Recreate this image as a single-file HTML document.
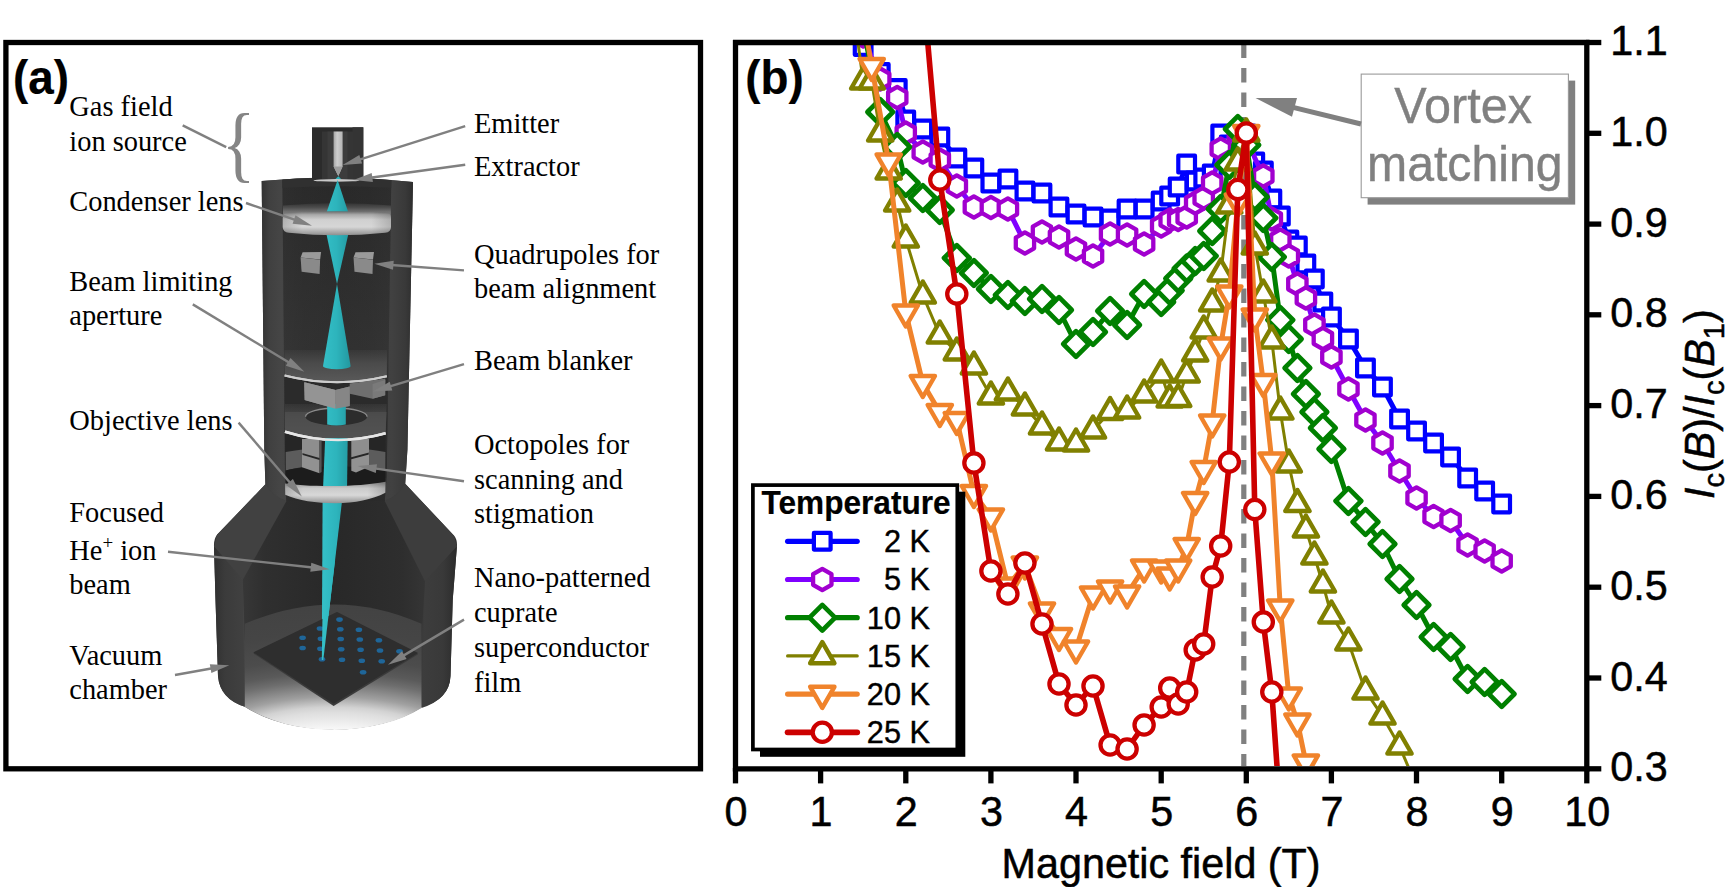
<!DOCTYPE html>
<html lang="en"><head><meta charset="utf-8"><title>Figure</title>
<style>html,body{margin:0;padding:0;background:#fff;overflow:hidden}svg{display:block}</style></head><body>
<svg width="1725" height="887" viewBox="0 0 1725 887">
<rect width="1725" height="887" fill="#fff"/>
<defs>
<linearGradient id="gShell" x1="0" x2="1" y1="0" y2="0">
 <stop offset="0" stop-color="#333333"/><stop offset="0.05" stop-color="#404040"/><stop offset="0.13" stop-color="#464646"/>
 <stop offset="0.5" stop-color="#3c3c3c"/><stop offset="0.86" stop-color="#414141"/><stop offset="0.95" stop-color="#393939"/><stop offset="1" stop-color="#2e2e2e"/>
</linearGradient>
<linearGradient id="gShellLow" x1="0" x2="1" y1="0" y2="0">
 <stop offset="0" stop-color="#303030"/><stop offset="0.06" stop-color="#3e3e3e"/><stop offset="0.12" stop-color="#454545"/>
 <stop offset="0.5" stop-color="#3c3c3c"/><stop offset="0.9" stop-color="#3b3b3b"/><stop offset="1" stop-color="#2c2c2c"/>
</linearGradient>
<linearGradient id="gInner" x1="0" x2="1" y1="0" y2="0">
 <stop offset="0" stop-color="#363636"/><stop offset="0.2" stop-color="#2d2d2d"/><stop offset="0.5" stop-color="#292929"/>
 <stop offset="0.8" stop-color="#2d2d2d"/><stop offset="1" stop-color="#353535"/>
</linearGradient>
<linearGradient id="gInnerLow" x1="0" x2="1" y1="0" y2="0">
 <stop offset="0" stop-color="#373737"/><stop offset="0.12" stop-color="#2f2f2f"/><stop offset="0.5" stop-color="#282828"/>
 <stop offset="0.88" stop-color="#2e2e2e"/><stop offset="1" stop-color="#353535"/>
</linearGradient>
<linearGradient id="gTorus" x1="0" x2="0" y1="0" y2="1">
 <stop offset="0" stop-color="#a8a8a8"/><stop offset="0.25" stop-color="#dcdcdc"/><stop offset="0.6" stop-color="#c9c9c9"/><stop offset="1" stop-color="#858585"/>
</linearGradient>
<linearGradient id="gTorusH" x1="0" x2="1" y1="0" y2="0">
 <stop offset="0" stop-color="#000" stop-opacity="0.28"/><stop offset="0.18" stop-color="#000" stop-opacity="0"/>
 <stop offset="0.82" stop-color="#000" stop-opacity="0"/><stop offset="1" stop-color="#000" stop-opacity="0.3"/>
</linearGradient>
<linearGradient id="gBeam" x1="322" x2="351" y1="0" y2="0" gradientUnits="userSpaceOnUse">
 <stop offset="0" stop-color="#35c0c8"/><stop offset="0.5" stop-color="#2db4bc"/><stop offset="1" stop-color="#23979f"/>
</linearGradient>
<linearGradient id="gNeedle" x1="0" x2="1" y1="0" y2="0">
 <stop offset="0" stop-color="#a6a6a6"/><stop offset="0.4" stop-color="#cdcdcd"/><stop offset="1" stop-color="#b4b4b4"/>
</linearGradient>
<linearGradient id="gPlate" x1="0" x2="0" y1="0" y2="1">
 <stop offset="0" stop-color="#4c4c4c"/><stop offset="1" stop-color="#6c6c6c"/>
</linearGradient>
<radialGradient id="gFloor" cx="334" cy="742" r="140" gradientUnits="userSpaceOnUse">
 <stop offset="0" stop-color="#ffffff"/><stop offset="0.14" stop-color="#f2f2f2"/><stop offset="0.3" stop-color="#c4c4c4"/>
 <stop offset="0.48" stop-color="#8c8c8c"/><stop offset="0.7" stop-color="#585858"/><stop offset="1" stop-color="#444444"/>
</radialGradient>
<clipPath id="colClip"><path d="M282.4 180 L391.3 180 L386.7 476 L385 495 L285.5 495 L285 476 Z"/></clipPath>
</defs>
<rect x="5.9" y="42.5" width="694.6" height="726.3" fill="#fff" stroke="#000" stroke-width="5.3"/>
<g>
<path d="M261.7 181 Q337 174 413 182 L407.4 450 L405.2 483.7 L454.1 535.7 Q457.4 539.5 456.9 546.5 L452.7 600 L450.5 676 Q449.5 699 423 706.5 A118 66.8 0 0 1 244.8 706.7 Q220 699 218 676 L215.5 600 L214 546.5 Q213.6 539.5 217 534.8 L265.4 484.3 L264.3 450 Z" fill="url(#gShellLow)"/>
<path d="M261.7 181 Q337 174 413 182 L407.4 450 L405.2 483.7 Q398 496 384.7 501 L286.5 501 Q272 496 265.4 484.3 L264.3 450 Z" fill="url(#gShell)"/>
<path d="M265.4 484.3 L217 534.8 L214 546.5 L242.8 579.7 L286.5 501 Q272 496 265.4 484.3 Z" fill="#414141"/>
<path d="M405.2 483.7 L454.1 535.7 L456.9 546.5 L425 581.5 L384.7 501 Q398 496 405.2 483.7 Z" fill="#3d3d3d"/>
<defs><linearGradient id="gLeftWall" x1="214" x2="245" y1="0" y2="0" gradientUnits="userSpaceOnUse">
<stop offset="0" stop-color="#303030"/><stop offset="0.35" stop-color="#3b3b3b"/><stop offset="1" stop-color="#414141"/></linearGradient>
<linearGradient id="gRightWall" x1="422" x2="457" y1="0" y2="0" gradientUnits="userSpaceOnUse">
<stop offset="0" stop-color="#3d3d3d"/><stop offset="0.6" stop-color="#393939"/><stop offset="1" stop-color="#2b2b2b"/></linearGradient>
<radialGradient id="gFloor2" cx="0" cy="0" r="170" gradientUnits="userSpaceOnUse" gradientTransform="translate(334 770) scale(2.2 1)">
 <stop offset="0" stop-color="#ffffff"/><stop offset="0.24" stop-color="#f8f8f8"/><stop offset="0.34" stop-color="#dedede"/>
 <stop offset="0.37" stop-color="#d2d2d2"/><stop offset="0.43" stop-color="#a0a0a0"/><stop offset="0.52" stop-color="#6e6e6e"/>
 <stop offset="0.57" stop-color="#5a5a5a"/><stop offset="0.65" stop-color="#4c4c4c"/><stop offset="0.8" stop-color="#454545"/><stop offset="1" stop-color="#424242"/>
</radialGradient>
<linearGradient id="gPlateS" x1="0" x2="0" y1="0" y2="1">
 <stop offset="0" stop-color="#4a4a4a" stop-opacity="0.25"/><stop offset="0.4" stop-color="#4d4d4d" stop-opacity="0.9"/><stop offset="1" stop-color="#5a5a5a"/>
</linearGradient>
<linearGradient id="gTorus2" x1="0" x2="0" y1="0" y2="1">
 <stop offset="0" stop-color="#888888"/><stop offset="0.3" stop-color="#cacaca"/><stop offset="0.62" stop-color="#d8d8d8"/><stop offset="1" stop-color="#929292"/>
</linearGradient>
<linearGradient id="gColInt" x1="0" x2="0" y1="180" y2="495" gradientUnits="userSpaceOnUse">
 <stop offset="0" stop-color="#292929"/><stop offset="0.25" stop-color="#2e2e2e"/><stop offset="0.58" stop-color="#353535"/>
 <stop offset="0.64" stop-color="#2b2b2b"/><stop offset="1" stop-color="#282828"/>
</linearGradient>
</defs>
<path d="M214 546.5 L242.8 579.7 L244.8 706.7 Q220 699 218 676 L215.5 600 Z" fill="url(#gLeftWall)"/>
<path d="M456.9 546.5 L425 581.5 L421.5 708 Q449.5 699 450.5 676 L452.7 600 Z" fill="url(#gRightWall)"/>
<path d="M286.5 494 L384.7 494 L384.7 501 L425 581.5 L421.5 640 L244.8 640 L242.8 579.7 L286.5 501 Z" fill="url(#gInnerLow)"/>
<path d="M244.8 623.8 Q335 585 421.5 623.8 L421.5 708 A118 66.8 0 0 1 244.8 706.7 Z" fill="url(#gFloor2)"/>
<path d="M282.4 180 L391.3 180 L386.7 476 L384.7 501 L286.5 501 L285 476 Z" fill="url(#gColInt)"/>
<path d="M282.4 180 L391.3 180 L386.7 476 L384.7 501 L286.5 501 L285 476 Z" fill="url(#gInner)" opacity="0.35"/>
<path d="M282.4 179.5 Q337 175.5 391.3 180 L391.2 188 Q337 184.5 282.5 188 Z" fill="#303030"/>
<rect x="312" y="127.3" width="51.3" height="52" fill="#2b2b2b"/>
<rect x="352.5" y="127.3" width="10.8" height="52" fill="#343434"/>
<rect x="322" y="131.5" width="31" height="47.5" fill="#353535"/>
<rect x="327.5" y="131.5" width="20" height="47.5" fill="#3c3c3c"/>
<path d="M333.6 131.5 H342.6 V166.5 L338.3 176 L333.6 166.5 Z" fill="url(#gNeedle)"/>
<path d="M333.6 166.5 H342.6 L338.3 176 Z" fill="#9d9d9d"/>
<path d="M335 179.6 L341.6 179.6 L338.3 176.3 Z" fill="#2db4bc"/>
<ellipse cx="336.5" cy="180.4" rx="23" ry="1.3" fill="#c9c9c9"/>
<defs><linearGradient id="gBackRing" x1="0" x2="0" y1="203" y2="214" gradientUnits="userSpaceOnUse">
<stop offset="0" stop-color="#333333"/><stop offset="0.4" stop-color="#4c4c4c"/><stop offset="0.8" stop-color="#727272"/><stop offset="1" stop-color="#7a7a7a"/></linearGradient>
<linearGradient id="gTorus3" x1="0" x2="0" y1="0" y2="1">
 <stop offset="0" stop-color="#6a6a6a"/><stop offset="0.14" stop-color="#a8a8a8"/><stop offset="0.35" stop-color="#d0d0d0"/><stop offset="0.65" stop-color="#d6d6d6"/><stop offset="1" stop-color="#8e8e8e"/>
</linearGradient></defs>
<path d="M283 205.6 Q337 200.4 390.9 205.6 L390.9 218 L283 218 Z" fill="url(#gBackRing)"/>
<path d="M337.6 180 L326 214 L326 232 L337 284 L348.8 232 L348.8 214 Z" fill="url(#gBeam)"/>
<path d="M282.7 218 Q282.7 213 289 212.6 Q337 210 385 212.6 Q391 213 391 218 L391 227 Q391 232 385 232.8 Q337 237.8 289 232.8 Q282.7 232 282.7 227 Z" fill="url(#gTorus3)"/>
<path d="M282.7 218 Q282.7 213 289 212.6 Q337 210 385 212.6 Q391 213 391 218 L391 227 Q391 232 385 232.8 Q337 237.8 289 232.8 Q282.7 232 282.7 227 Z" fill="url(#gTorusH)" opacity="0.55"/>
<path d="M300.6 257.6 L302.6 252.3 L321.1 252 L320.1 259.5 Z" fill="#9a9a9a"/>
<path d="M300.6 257.6 L320.1 259.8 L319.6 274 L301.6 271.8 Z" fill="#8a8a8a"/>
<path d="M353.5 257.6 L355.5 252.3 L374.0 252 L373.0 259.5 Z" fill="#9a9a9a"/>
<path d="M353.5 257.6 L373.0 259.8 L372.5 274 L354.5 271.8 Z" fill="#8a8a8a"/>
<path d="M284.4 350 L387 350 L386.8 376.3 Q335.5 388.6 284.6 375.5 Z" fill="url(#gPlateS)"/>
<path d="M284.6 375.5 Q335.5 388.6 386.8 376.3" fill="none" stroke="#cdcdcd" stroke-width="2"/>
<path d="M284.8 377 Q335.5 390 386.7 377.8 L386.5 404 L285 404 Z" fill="#2b2b2b"/>
<path d="M337 284 L323 366 A13.8 3.3 0 0 0 350.6 366 Z" fill="url(#gBeam)"/>
<path d="M349.7 383.5 L385.3 378.5 L385.2 395.2 L372.6 398.8 L349.7 393.7 Z" fill="#6f6f6f"/>
<path d="M372.6 384 L385.3 380 L385.2 395.2 L372.6 398.8 Z" fill="#7a7a7a"/>
<path d="M304.3 382.2 L335.5 390.1 L335.5 408.7 L304.7 400 Z" fill="#949494"/>
<path d="M335.5 390.1 L349.7 386.6 L349.7 405.9 L335.5 408.7 Z" fill="#868686"/>
<path d="M284.6 375.5 Q335.5 388.6 386.8 376.3" fill="none" stroke="#cdcdcd" stroke-width="2"/>
<path d="M284.8 404 L386.6 404 L385.6 433.3 Q335.5 447.4 285 431.7 Z" fill="url(#gPlateS)"/>
<path d="M284.8 412 L386.6 412 L385.6 433.3 Q335.5 447.4 285 431.7 Z" fill="#505050" opacity="0.7"/>
<ellipse cx="336.3" cy="416.7" rx="30.8" ry="8.7" fill="#2c2c2c"/>
<path d="M305.5 416.7 A30.8 8.7 0 0 1 367.1 416.7" fill="none" stroke="#8a8a8a" stroke-width="1.3"/>
<path d="M285 431.7 Q335.5 447.4 385.6 433.3" fill="none" stroke="#e6e6e6" stroke-width="2.6"/>
<path d="M327.2 404 L345.8 404 L345.8 424.6 Q336 426.3 327.2 424.6 Z" fill="url(#gBeam)"/>
<path d="M304.3 382.2 L335.5 390.1 L335.5 408.7 L304.7 400 Z" fill="#949494"/>
<path d="M335.5 390.1 L349.7 386.6 L349.7 405.9 L335.5 408.7 Z" fill="#868686"/>
<path d="M285.1 433.5 Q335.5 449 385.5 435 L385.6 478 L285.5 478 Z" fill="#262626"/>
<path d="M285.7 452 Q300 449.5 303 449.5 L303 467 Q294 468 285.8 470.5 Z" fill="#5c5c5c"/>
<path d="M385.4 452 Q372 449.5 368.5 449.5 L368.5 467 Q377 468 385.3 470.5 Z" fill="#5c5c5c"/>
<path d="M285.8 470.5 Q300 466.5 335.5 466.5 Q371 466.5 385.3 470.5 L385 492 L286 492 Z" fill="#1c1c1c"/>
<path d="M325.2 438 L347.7 438 L347 492 L322.9 492 Z" fill="url(#gBeam)"/>
<path d="M302 439 L319.5 439 L319.5 458 L302 453 Z" fill="#8e8e8e"/>
<path d="M302 454.8 L319.5 459.9 L319.5 473.2 L302 467.2 Z" fill="#929292"/>
<path d="M319.5 439 L321.6 439 L321.6 472 L319.5 473.2 Z" fill="#555"/>
<path d="M351.3 439 L369 439 L369 452.6 L351.3 457.2 Z" fill="#8e8e8e"/>
<path d="M351.3 459.3 L369 454.6 L369 466.8 L356 472.6 L351.3 470.8 Z" fill="#929292"/>
<path d="M285 431.7 Q335.5 447.4 385.6 433.3" fill="none" stroke="#e6e6e6" stroke-width="2.6"/>
<path d="M322.6 498 L342.4 498 L323.3 660 L321.8 660 Z" fill="url(#gBeam)"/>
<path d="M285 483.4 C300 485.6 320 486 335.5 486 C351 486 371 484.6 385.6 481.8 L385.3 492.8 C372 499.5 355 503.3 335.5 503.3 C316 503.3 298 500.6 285.3 494.8 Z" fill="url(#gTorus2)"/>
<path d="M285 483.4 C300 485.6 320 486 335.5 486 C351 486 371 484.6 385.6 481.8 L385.3 492.8 C372 499.5 355 503.3 335.5 503.3 C316 503.3 298 500.6 285.3 494.8 Z" fill="url(#gTorusH)" opacity="0.6"/>
<path d="M337 612 L418.1 654.2 L333.6 706 L253.3 653.4 Z" fill="#3b3b3b"/>
<path d="M337 612 L418.1 653 L333.6 703.8 L253.3 652.4 Z" fill="#2e2e2e"/>
<ellipse cx="339.5" cy="619.6" rx="3.3" ry="2.3" fill="#1f6699"/>
<ellipse cx="320.0" cy="628.5" rx="3.3" ry="2.3" fill="#1f6699"/>
<ellipse cx="340.3" cy="629.2" rx="3.3" ry="2.3" fill="#1f6699"/>
<ellipse cx="358.9" cy="629.7" rx="3.3" ry="2.3" fill="#1f6699"/>
<ellipse cx="302.6" cy="637.8" rx="3.3" ry="2.3" fill="#1f6699"/>
<ellipse cx="320.9" cy="638.7" rx="3.3" ry="2.3" fill="#1f6699"/>
<ellipse cx="340.7" cy="639.0" rx="3.3" ry="2.3" fill="#1f6699"/>
<ellipse cx="359.8" cy="639.5" rx="3.3" ry="2.3" fill="#1f6699"/>
<ellipse cx="378.9" cy="640.2" rx="3.3" ry="2.3" fill="#1f6699"/>
<ellipse cx="302.6" cy="648.0" rx="3.3" ry="2.3" fill="#1f6699"/>
<ellipse cx="320.4" cy="648.7" rx="3.3" ry="2.3" fill="#1f6699"/>
<ellipse cx="341.2" cy="649.2" rx="3.3" ry="2.3" fill="#1f6699"/>
<ellipse cx="360.6" cy="649.7" rx="3.3" ry="2.3" fill="#1f6699"/>
<ellipse cx="380.0" cy="650.5" rx="3.3" ry="2.3" fill="#1f6699"/>
<ellipse cx="399.5" cy="651.2" rx="3.3" ry="2.3" fill="#1f6699"/>
<ellipse cx="322.0" cy="659.3" rx="3.3" ry="2.3" fill="#1f6699"/>
<ellipse cx="342.0" cy="659.8" rx="3.3" ry="2.3" fill="#1f6699"/>
<ellipse cx="361.8" cy="660.7" rx="3.3" ry="2.3" fill="#1f6699"/>
<ellipse cx="381.7" cy="661.3" rx="3.3" ry="2.3" fill="#1f6699"/>
<ellipse cx="363.1" cy="672.3" rx="3.3" ry="2.3" fill="#1f6699"/>
<path d="M323.4 560 L335.1 560 L323.3 660 L321.8 660 Z" fill="url(#gBeam)"/>
</g>
<g font-family='"Liberation Serif", "Times New Roman", serif' font-size="28.4" fill="#000">
<text x="69.3" y="116.2">Gas field</text>
<text x="69.3" y="151.2">ion source</text>
<text x="69.3" y="210.6">Condenser lens</text>
<text x="69.3" y="290.6">Beam limiting</text>
<text x="69.3" y="325.2">aperture</text>
<text x="69.3" y="430.2">Objective lens</text>
<text x="69.3" y="521.7">Focused</text>
<text x="69.3" y="594.4">beam</text>
<text x="69.3" y="664.8">Vacuum</text>
<text x="69.3" y="699.4">chamber</text>
<text x="69.3" y="559.8">He<tspan font-size="19" dy="-11">+</tspan><tspan dy="11"> ion</tspan></text>
<text x="474.0" y="133.4">Emitter</text>
<text x="474.0" y="175.8">Extractor</text>
<text x="474.0" y="263.8">Quadrupoles for</text>
<text x="474.0" y="298.4">beam alignment</text>
<text x="474.0" y="370.4">Beam blanker</text>
<text x="474.0" y="454.3">Octopoles for</text>
<text x="474.0" y="488.8">scanning and</text>
<text x="474.0" y="523.4">stigmation</text>
<text x="474.0" y="586.8">Nano-patterned</text>
<text x="474.0" y="621.6">cuprate</text>
<text x="474.0" y="656.6">superconductor</text>
<text x="474.0" y="691.6">film</text>
</g>
<text transform="translate(13.1 93.6) scale(1 1.030)" font-family='"Liberation Sans", Arial, sans-serif' font-size="45.8" text-anchor="start" fill="#000" font-weight="bold" stroke="#000" stroke-width="0.20">(a)</text>
<line x1="182.7" y1="125.4" x2="226.2" y2="147.1" stroke="#808080" stroke-width="2.5"/>
<text transform="translate(221.7 171.6) scale(0.82 1)" font-family='"Liberation Serif", "Times New Roman", serif' font-size="85.4" fill="#858585">{</text>
<line x1="465.2" y1="126.1" x2="358.8" y2="159.9" stroke="#808080" stroke-width="2.4"/><polygon points="342.6,165.0 359.3,155.0 362.1,163.5" fill="#808080"/>
<line x1="465.2" y1="164.8" x2="370.3" y2="177.7" stroke="#808080" stroke-width="2.4"/><polygon points="353.5,180.0 371.7,173.0 372.9,181.9" fill="#808080"/>
<line x1="246.0" y1="203.0" x2="295.9" y2="220.2" stroke="#808080" stroke-width="2.4"/><polygon points="312.0,225.7 292.6,223.8 295.5,215.3" fill="#808080"/>
<line x1="464.0" y1="270.4" x2="391.4" y2="265.0" stroke="#808080" stroke-width="2.4"/><polygon points="374.4,263.8 393.7,260.7 393.0,269.7" fill="#808080"/>
<line x1="192.8" y1="304.4" x2="289.8" y2="363.0" stroke="#808080" stroke-width="2.4"/><polygon points="304.4,371.8 285.8,365.8 290.5,358.1" fill="#808080"/>
<line x1="464.0" y1="364.2" x2="389.1" y2="386.7" stroke="#808080" stroke-width="2.4"/><polygon points="372.8,391.6 389.7,381.8 392.3,390.4" fill="#808080"/>
<line x1="238.6" y1="422.6" x2="290.7" y2="483.5" stroke="#808080" stroke-width="2.4"/><polygon points="301.8,496.4 286.0,484.9 292.9,479.0" fill="#808080"/>
<line x1="464.0" y1="481.2" x2="374.4" y2="468.4" stroke="#808080" stroke-width="2.4"/><polygon points="357.6,466.0 377.0,464.2 375.8,473.1" fill="#808080"/>
<line x1="168.0" y1="551.8" x2="312.8" y2="567.5" stroke="#808080" stroke-width="2.4"/><polygon points="329.7,569.3 310.3,571.7 311.3,562.8" fill="#808080"/>
<line x1="175.0" y1="675.0" x2="212.6" y2="668.3" stroke="#808080" stroke-width="2.4"/><polygon points="229.3,665.3 211.4,673.1 209.8,664.2" fill="#808080"/>
<line x1="464.0" y1="619.6" x2="402.6" y2="656.1" stroke="#808080" stroke-width="2.4"/><polygon points="388.0,664.8 402.0,651.2 406.6,659.0" fill="#808080"/>
<defs><clipPath id="plotclip"><rect x="738" y="45" width="846" height="721"/></clipPath></defs>
<g clip-path="url(#plotclip)">
<line x1="1243.8" y1="43.5" x2="1243.8" y2="770" stroke="#808080" stroke-width="5.2" stroke-dasharray="14.4 10.1"/>
<polyline points="846.2,18.0 863.2,46.5 880.2,72.5 897.2,88.5 905.8,120.0 922.8,129.0 939.8,137.0 956.8,158.0 973.9,168.0 990.9,183.0 1007.9,179.0 1024.9,191.0 1042.0,193.0 1059.0,207.0 1076.0,214.0 1093.0,217.0 1110.1,219.0 1127.1,209.0 1144.1,209.0 1161.2,201.0 1169.7,196.0 1178.2,187.0 1186.7,164.0 1195.2,181.0 1203.7,178.0 1212.2,174.0 1220.7,134.0 1229.3,145.0 1237.8,138.0 1246.3,134.0 1254.8,162.0 1263.3,171.0 1271.8,199.0 1280.3,216.0 1288.8,240.0 1297.4,246.0 1305.9,264.0 1314.4,279.0 1322.9,302.0 1331.4,317.0 1348.4,339.0 1365.5,368.0 1382.5,387.0 1399.5,419.0 1416.5,431.0 1433.6,443.0 1450.6,457.0 1467.6,478.0 1484.6,491.0 1501.7,504.0" fill="none" stroke="#0000ff" stroke-width="5.00" stroke-linejoin="round"/>
<rect x="854.8" y="38.1" width="16.7" height="16.7" fill="#fff" stroke="#0000ff" stroke-width="4.2" stroke-linejoin="round"/>
<rect x="871.9" y="64.2" width="16.7" height="16.7" fill="#fff" stroke="#0000ff" stroke-width="4.2" stroke-linejoin="round"/>
<rect x="888.9" y="80.2" width="16.7" height="16.7" fill="#fff" stroke="#0000ff" stroke-width="4.2" stroke-linejoin="round"/>
<rect x="897.4" y="111.7" width="16.7" height="16.7" fill="#fff" stroke="#0000ff" stroke-width="4.2" stroke-linejoin="round"/>
<rect x="914.4" y="120.7" width="16.7" height="16.7" fill="#fff" stroke="#0000ff" stroke-width="4.2" stroke-linejoin="round"/>
<rect x="931.5" y="128.7" width="16.7" height="16.7" fill="#fff" stroke="#0000ff" stroke-width="4.2" stroke-linejoin="round"/>
<rect x="948.5" y="149.7" width="16.7" height="16.7" fill="#fff" stroke="#0000ff" stroke-width="4.2" stroke-linejoin="round"/>
<rect x="965.5" y="159.7" width="16.7" height="16.7" fill="#fff" stroke="#0000ff" stroke-width="4.2" stroke-linejoin="round"/>
<rect x="982.5" y="174.7" width="16.7" height="16.7" fill="#fff" stroke="#0000ff" stroke-width="4.2" stroke-linejoin="round"/>
<rect x="999.6" y="170.7" width="16.7" height="16.7" fill="#fff" stroke="#0000ff" stroke-width="4.2" stroke-linejoin="round"/>
<rect x="1016.6" y="182.7" width="16.7" height="16.7" fill="#fff" stroke="#0000ff" stroke-width="4.2" stroke-linejoin="round"/>
<rect x="1033.6" y="184.7" width="16.7" height="16.7" fill="#fff" stroke="#0000ff" stroke-width="4.2" stroke-linejoin="round"/>
<rect x="1050.6" y="198.7" width="16.7" height="16.7" fill="#fff" stroke="#0000ff" stroke-width="4.2" stroke-linejoin="round"/>
<rect x="1067.7" y="205.7" width="16.7" height="16.7" fill="#fff" stroke="#0000ff" stroke-width="4.2" stroke-linejoin="round"/>
<rect x="1084.7" y="208.7" width="16.7" height="16.7" fill="#fff" stroke="#0000ff" stroke-width="4.2" stroke-linejoin="round"/>
<rect x="1101.7" y="210.7" width="16.7" height="16.7" fill="#fff" stroke="#0000ff" stroke-width="4.2" stroke-linejoin="round"/>
<rect x="1118.7" y="200.7" width="16.7" height="16.7" fill="#fff" stroke="#0000ff" stroke-width="4.2" stroke-linejoin="round"/>
<rect x="1135.8" y="200.7" width="16.7" height="16.7" fill="#fff" stroke="#0000ff" stroke-width="4.2" stroke-linejoin="round"/>
<rect x="1152.8" y="192.7" width="16.7" height="16.7" fill="#fff" stroke="#0000ff" stroke-width="4.2" stroke-linejoin="round"/>
<rect x="1161.3" y="187.7" width="16.7" height="16.7" fill="#fff" stroke="#0000ff" stroke-width="4.2" stroke-linejoin="round"/>
<rect x="1169.8" y="178.7" width="16.7" height="16.7" fill="#fff" stroke="#0000ff" stroke-width="4.2" stroke-linejoin="round"/>
<rect x="1178.3" y="155.7" width="16.7" height="16.7" fill="#fff" stroke="#0000ff" stroke-width="4.2" stroke-linejoin="round"/>
<rect x="1186.9" y="172.7" width="16.7" height="16.7" fill="#fff" stroke="#0000ff" stroke-width="4.2" stroke-linejoin="round"/>
<rect x="1195.4" y="169.7" width="16.7" height="16.7" fill="#fff" stroke="#0000ff" stroke-width="4.2" stroke-linejoin="round"/>
<rect x="1203.9" y="165.7" width="16.7" height="16.7" fill="#fff" stroke="#0000ff" stroke-width="4.2" stroke-linejoin="round"/>
<rect x="1212.4" y="125.7" width="16.7" height="16.7" fill="#fff" stroke="#0000ff" stroke-width="4.2" stroke-linejoin="round"/>
<rect x="1220.9" y="136.7" width="16.7" height="16.7" fill="#fff" stroke="#0000ff" stroke-width="4.2" stroke-linejoin="round"/>
<rect x="1229.4" y="129.7" width="16.7" height="16.7" fill="#fff" stroke="#0000ff" stroke-width="4.2" stroke-linejoin="round"/>
<rect x="1237.9" y="125.7" width="16.7" height="16.7" fill="#fff" stroke="#0000ff" stroke-width="4.2" stroke-linejoin="round"/>
<rect x="1246.4" y="153.7" width="16.7" height="16.7" fill="#fff" stroke="#0000ff" stroke-width="4.2" stroke-linejoin="round"/>
<rect x="1255.0" y="162.7" width="16.7" height="16.7" fill="#fff" stroke="#0000ff" stroke-width="4.2" stroke-linejoin="round"/>
<rect x="1263.5" y="190.7" width="16.7" height="16.7" fill="#fff" stroke="#0000ff" stroke-width="4.2" stroke-linejoin="round"/>
<rect x="1272.0" y="207.7" width="16.7" height="16.7" fill="#fff" stroke="#0000ff" stroke-width="4.2" stroke-linejoin="round"/>
<rect x="1280.5" y="231.7" width="16.7" height="16.7" fill="#fff" stroke="#0000ff" stroke-width="4.2" stroke-linejoin="round"/>
<rect x="1289.0" y="237.7" width="16.7" height="16.7" fill="#fff" stroke="#0000ff" stroke-width="4.2" stroke-linejoin="round"/>
<rect x="1297.5" y="255.7" width="16.7" height="16.7" fill="#fff" stroke="#0000ff" stroke-width="4.2" stroke-linejoin="round"/>
<rect x="1306.0" y="270.6" width="16.7" height="16.7" fill="#fff" stroke="#0000ff" stroke-width="4.2" stroke-linejoin="round"/>
<rect x="1314.5" y="293.6" width="16.7" height="16.7" fill="#fff" stroke="#0000ff" stroke-width="4.2" stroke-linejoin="round"/>
<rect x="1323.1" y="308.6" width="16.7" height="16.7" fill="#fff" stroke="#0000ff" stroke-width="4.2" stroke-linejoin="round"/>
<rect x="1340.1" y="330.6" width="16.7" height="16.7" fill="#fff" stroke="#0000ff" stroke-width="4.2" stroke-linejoin="round"/>
<rect x="1357.1" y="359.6" width="16.7" height="16.7" fill="#fff" stroke="#0000ff" stroke-width="4.2" stroke-linejoin="round"/>
<rect x="1374.1" y="378.6" width="16.7" height="16.7" fill="#fff" stroke="#0000ff" stroke-width="4.2" stroke-linejoin="round"/>
<rect x="1391.2" y="410.6" width="16.7" height="16.7" fill="#fff" stroke="#0000ff" stroke-width="4.2" stroke-linejoin="round"/>
<rect x="1408.2" y="422.6" width="16.7" height="16.7" fill="#fff" stroke="#0000ff" stroke-width="4.2" stroke-linejoin="round"/>
<rect x="1425.2" y="434.6" width="16.7" height="16.7" fill="#fff" stroke="#0000ff" stroke-width="4.2" stroke-linejoin="round"/>
<rect x="1442.2" y="448.6" width="16.7" height="16.7" fill="#fff" stroke="#0000ff" stroke-width="4.2" stroke-linejoin="round"/>
<rect x="1459.3" y="469.6" width="16.7" height="16.7" fill="#fff" stroke="#0000ff" stroke-width="4.2" stroke-linejoin="round"/>
<rect x="1476.3" y="482.6" width="16.7" height="16.7" fill="#fff" stroke="#0000ff" stroke-width="4.2" stroke-linejoin="round"/>
<rect x="1493.3" y="495.6" width="16.7" height="16.7" fill="#fff" stroke="#0000ff" stroke-width="4.2" stroke-linejoin="round"/>
<polyline points="846.2,10.0 863.2,36.0 880.2,79.0 897.2,97.5 905.8,133.0 922.8,152.0 939.8,160.0 956.8,186.0 973.9,207.0 990.9,207.5 1007.9,209.0 1024.9,243.0 1042.0,232.0 1059.0,237.0 1076.0,249.0 1093.0,256.0 1110.1,234.0 1127.1,235.0 1144.1,244.0 1161.2,226.0 1169.7,220.0 1178.2,219.5 1186.7,217.0 1195.2,203.0 1203.7,198.0 1212.2,183.0 1220.7,149.0 1229.3,162.0 1237.8,133.0 1246.3,135.0 1254.8,158.0 1263.3,176.0 1271.8,219.0 1280.3,240.0 1288.8,256.0 1297.4,284.0 1305.9,298.0 1314.4,325.0 1322.9,338.5 1331.4,357.0 1348.4,389.0 1365.5,420.0 1382.5,443.0 1399.5,471.0 1416.5,498.0 1433.6,516.5 1450.6,520.5 1467.6,545.0 1484.6,551.0 1501.7,561.0" fill="none" stroke="#7f00ff" stroke-width="5.00" stroke-linejoin="round"/>
<polygon points="863.2,25.4 872.4,30.7 872.4,41.3 863.2,46.6 854.0,41.3 854.0,30.7" fill="#fff" stroke="#a100cf" stroke-width="4.3" stroke-linejoin="round"/>
<polygon points="880.2,68.4 889.4,73.7 889.4,84.3 880.2,89.6 871.0,84.3 871.0,73.7" fill="#fff" stroke="#a100cf" stroke-width="4.3" stroke-linejoin="round"/>
<polygon points="897.2,86.9 906.4,92.2 906.4,102.8 897.2,108.1 888.1,102.8 888.1,92.2" fill="#fff" stroke="#a100cf" stroke-width="4.3" stroke-linejoin="round"/>
<polygon points="905.8,122.4 914.9,127.7 914.9,138.3 905.8,143.6 896.6,138.3 896.6,127.7" fill="#fff" stroke="#a100cf" stroke-width="4.3" stroke-linejoin="round"/>
<polygon points="922.8,141.4 932.0,146.7 932.0,157.3 922.8,162.6 913.6,157.3 913.6,146.7" fill="#fff" stroke="#a100cf" stroke-width="4.3" stroke-linejoin="round"/>
<polygon points="939.8,149.4 949.0,154.7 949.0,165.3 939.8,170.6 930.6,165.3 930.6,154.7" fill="#fff" stroke="#a100cf" stroke-width="4.3" stroke-linejoin="round"/>
<polygon points="956.8,175.4 966.0,180.7 966.0,191.3 956.8,196.6 947.7,191.3 947.7,180.7" fill="#fff" stroke="#a100cf" stroke-width="4.3" stroke-linejoin="round"/>
<polygon points="973.9,196.4 983.0,201.7 983.0,212.3 973.9,217.6 964.7,212.3 964.7,201.7" fill="#fff" stroke="#a100cf" stroke-width="4.3" stroke-linejoin="round"/>
<polygon points="990.9,196.9 1000.1,202.2 1000.1,212.8 990.9,218.1 981.7,212.8 981.7,202.2" fill="#fff" stroke="#a100cf" stroke-width="4.3" stroke-linejoin="round"/>
<polygon points="1007.9,198.4 1017.1,203.7 1017.1,214.3 1007.9,219.6 998.7,214.3 998.7,203.7" fill="#fff" stroke="#a100cf" stroke-width="4.3" stroke-linejoin="round"/>
<polygon points="1024.9,232.4 1034.1,237.7 1034.1,248.3 1024.9,253.6 1015.8,248.3 1015.8,237.7" fill="#fff" stroke="#a100cf" stroke-width="4.3" stroke-linejoin="round"/>
<polygon points="1042.0,221.4 1051.1,226.7 1051.1,237.3 1042.0,242.6 1032.8,237.3 1032.8,226.7" fill="#fff" stroke="#a100cf" stroke-width="4.3" stroke-linejoin="round"/>
<polygon points="1059.0,226.4 1068.2,231.7 1068.2,242.3 1059.0,247.6 1049.8,242.3 1049.8,231.7" fill="#fff" stroke="#a100cf" stroke-width="4.3" stroke-linejoin="round"/>
<polygon points="1076.0,238.4 1085.2,243.7 1085.2,254.3 1076.0,259.6 1066.8,254.3 1066.8,243.7" fill="#fff" stroke="#a100cf" stroke-width="4.3" stroke-linejoin="round"/>
<polygon points="1093.0,245.4 1102.2,250.7 1102.2,261.3 1093.0,266.6 1083.9,261.3 1083.9,250.7" fill="#fff" stroke="#a100cf" stroke-width="4.3" stroke-linejoin="round"/>
<polygon points="1110.1,223.4 1119.3,228.7 1119.3,239.3 1110.1,244.6 1100.9,239.3 1100.9,228.7" fill="#fff" stroke="#a100cf" stroke-width="4.3" stroke-linejoin="round"/>
<polygon points="1127.1,224.4 1136.3,229.7 1136.3,240.3 1127.1,245.6 1117.9,240.3 1117.9,229.7" fill="#fff" stroke="#a100cf" stroke-width="4.3" stroke-linejoin="round"/>
<polygon points="1144.1,233.4 1153.3,238.7 1153.3,249.3 1144.1,254.6 1134.9,249.3 1134.9,238.7" fill="#fff" stroke="#a100cf" stroke-width="4.3" stroke-linejoin="round"/>
<polygon points="1161.2,215.4 1170.3,220.7 1170.3,231.3 1161.2,236.6 1152.0,231.3 1152.0,220.7" fill="#fff" stroke="#a100cf" stroke-width="4.3" stroke-linejoin="round"/>
<polygon points="1169.7,209.4 1178.8,214.7 1178.8,225.3 1169.7,230.6 1160.5,225.3 1160.5,214.7" fill="#fff" stroke="#a100cf" stroke-width="4.3" stroke-linejoin="round"/>
<polygon points="1178.2,208.9 1187.4,214.2 1187.4,224.8 1178.2,230.1 1169.0,224.8 1169.0,214.2" fill="#fff" stroke="#a100cf" stroke-width="4.3" stroke-linejoin="round"/>
<polygon points="1186.7,206.4 1195.9,211.7 1195.9,222.3 1186.7,227.6 1177.5,222.3 1177.5,211.7" fill="#fff" stroke="#a100cf" stroke-width="4.3" stroke-linejoin="round"/>
<polygon points="1195.2,192.4 1204.4,197.7 1204.4,208.3 1195.2,213.6 1186.0,208.3 1186.0,197.7" fill="#fff" stroke="#a100cf" stroke-width="4.3" stroke-linejoin="round"/>
<polygon points="1203.7,187.4 1212.9,192.7 1212.9,203.3 1203.7,208.6 1194.5,203.3 1194.5,192.7" fill="#fff" stroke="#a100cf" stroke-width="4.3" stroke-linejoin="round"/>
<polygon points="1212.2,172.4 1221.4,177.7 1221.4,188.3 1212.2,193.6 1203.0,188.3 1203.0,177.7" fill="#fff" stroke="#a100cf" stroke-width="4.3" stroke-linejoin="round"/>
<polygon points="1220.7,138.4 1229.9,143.7 1229.9,154.3 1220.7,159.6 1211.6,154.3 1211.6,143.7" fill="#fff" stroke="#a100cf" stroke-width="4.3" stroke-linejoin="round"/>
<polygon points="1229.3,151.4 1238.4,156.7 1238.4,167.3 1229.3,172.6 1220.1,167.3 1220.1,156.7" fill="#fff" stroke="#a100cf" stroke-width="4.3" stroke-linejoin="round"/>
<polygon points="1237.8,122.4 1246.9,127.7 1246.9,138.3 1237.8,143.6 1228.6,138.3 1228.6,127.7" fill="#fff" stroke="#a100cf" stroke-width="4.3" stroke-linejoin="round"/>
<polygon points="1246.3,124.4 1255.5,129.7 1255.5,140.3 1246.3,145.6 1237.1,140.3 1237.1,129.7" fill="#fff" stroke="#a100cf" stroke-width="4.3" stroke-linejoin="round"/>
<polygon points="1263.3,165.4 1272.5,170.7 1272.5,181.3 1263.3,186.6 1254.1,181.3 1254.1,170.7" fill="#fff" stroke="#a100cf" stroke-width="4.3" stroke-linejoin="round"/>
<polygon points="1271.8,208.4 1281.0,213.7 1281.0,224.3 1271.8,229.6 1262.6,224.3 1262.6,213.7" fill="#fff" stroke="#a100cf" stroke-width="4.3" stroke-linejoin="round"/>
<polygon points="1280.3,229.4 1289.5,234.7 1289.5,245.3 1280.3,250.6 1271.2,245.3 1271.2,234.7" fill="#fff" stroke="#a100cf" stroke-width="4.3" stroke-linejoin="round"/>
<polygon points="1288.8,245.4 1298.0,250.7 1298.0,261.3 1288.8,266.6 1279.7,261.3 1279.7,250.7" fill="#fff" stroke="#a100cf" stroke-width="4.3" stroke-linejoin="round"/>
<polygon points="1297.4,273.4 1306.5,278.7 1306.5,289.3 1297.4,294.6 1288.2,289.3 1288.2,278.7" fill="#fff" stroke="#a100cf" stroke-width="4.3" stroke-linejoin="round"/>
<polygon points="1305.9,287.4 1315.1,292.7 1315.1,303.3 1305.9,308.6 1296.7,303.3 1296.7,292.7" fill="#fff" stroke="#a100cf" stroke-width="4.3" stroke-linejoin="round"/>
<polygon points="1314.4,314.4 1323.6,319.7 1323.6,330.3 1314.4,335.6 1305.2,330.3 1305.2,319.7" fill="#fff" stroke="#a100cf" stroke-width="4.3" stroke-linejoin="round"/>
<polygon points="1322.9,327.9 1332.1,333.2 1332.1,343.8 1322.9,349.1 1313.7,343.8 1313.7,333.2" fill="#fff" stroke="#a100cf" stroke-width="4.3" stroke-linejoin="round"/>
<polygon points="1331.4,346.4 1340.6,351.7 1340.6,362.3 1331.4,367.6 1322.2,362.3 1322.2,351.7" fill="#fff" stroke="#a100cf" stroke-width="4.3" stroke-linejoin="round"/>
<polygon points="1348.4,378.4 1357.6,383.7 1357.6,394.3 1348.4,399.6 1339.3,394.3 1339.3,383.7" fill="#fff" stroke="#a100cf" stroke-width="4.3" stroke-linejoin="round"/>
<polygon points="1365.5,409.4 1374.6,414.7 1374.6,425.3 1365.5,430.6 1356.3,425.3 1356.3,414.7" fill="#fff" stroke="#a100cf" stroke-width="4.3" stroke-linejoin="round"/>
<polygon points="1382.5,432.4 1391.7,437.7 1391.7,448.3 1382.5,453.6 1373.3,448.3 1373.3,437.7" fill="#fff" stroke="#a100cf" stroke-width="4.3" stroke-linejoin="round"/>
<polygon points="1399.5,460.4 1408.7,465.7 1408.7,476.3 1399.5,481.6 1390.3,476.3 1390.3,465.7" fill="#fff" stroke="#a100cf" stroke-width="4.3" stroke-linejoin="round"/>
<polygon points="1416.5,487.4 1425.7,492.7 1425.7,503.3 1416.5,508.6 1407.4,503.3 1407.4,492.7" fill="#fff" stroke="#a100cf" stroke-width="4.3" stroke-linejoin="round"/>
<polygon points="1433.6,505.9 1442.7,511.2 1442.7,521.8 1433.6,527.1 1424.4,521.8 1424.4,511.2" fill="#fff" stroke="#a100cf" stroke-width="4.3" stroke-linejoin="round"/>
<polygon points="1450.6,509.9 1459.8,515.2 1459.8,525.8 1450.6,531.1 1441.4,525.8 1441.4,515.2" fill="#fff" stroke="#a100cf" stroke-width="4.3" stroke-linejoin="round"/>
<polygon points="1467.6,534.4 1476.8,539.7 1476.8,550.3 1467.6,555.6 1458.4,550.3 1458.4,539.7" fill="#fff" stroke="#a100cf" stroke-width="4.3" stroke-linejoin="round"/>
<polygon points="1484.6,540.4 1493.8,545.7 1493.8,556.3 1484.6,561.6 1475.5,556.3 1475.5,545.7" fill="#fff" stroke="#a100cf" stroke-width="4.3" stroke-linejoin="round"/>
<polygon points="1501.7,550.4 1510.8,555.7 1510.8,566.3 1501.7,571.6 1492.5,566.3 1492.5,555.7" fill="#fff" stroke="#a100cf" stroke-width="4.3" stroke-linejoin="round"/>
<polyline points="846.2,-60.0 863.2,28.0 880.2,112.0 897.2,147.0 905.8,183.0 922.8,198.0 939.8,210.0 956.8,258.0 973.9,273.0 990.9,289.0 1007.9,295.0 1024.9,301.0 1042.0,299.0 1059.0,310.0 1076.0,344.0 1093.0,332.0 1110.1,311.0 1127.1,325.0 1144.1,294.0 1161.2,302.0 1169.7,290.5 1178.2,278.5 1186.7,268.5 1195.2,261.0 1203.7,256.0 1212.2,231.0 1220.7,209.0 1229.3,165.0 1237.8,129.0 1246.3,145.0 1254.8,197.0 1263.3,218.0 1271.8,257.0 1280.3,320.0 1288.8,339.0 1297.4,368.0 1305.9,394.0 1314.4,412.0 1322.9,428.0 1331.4,449.0 1348.4,501.0 1365.5,522.0 1382.5,544.0 1399.5,579.0 1416.5,605.0 1433.6,637.0 1450.6,647.0 1467.6,679.0 1484.6,682.0 1501.7,694.0" fill="none" stroke="#008000" stroke-width="5.00" stroke-linejoin="round"/>
<polygon points="863.2,15.2 876.0,28.0 863.2,40.8 850.4,28.0" fill="#fff" stroke="#008000" stroke-width="4.7" stroke-linejoin="round"/>
<polygon points="880.2,99.2 893.0,112.0 880.2,124.8 867.4,112.0" fill="#fff" stroke="#008000" stroke-width="4.7" stroke-linejoin="round"/>
<polygon points="897.2,134.2 910.0,147.0 897.2,159.8 884.4,147.0" fill="#fff" stroke="#008000" stroke-width="4.7" stroke-linejoin="round"/>
<polygon points="905.8,170.2 918.6,183.0 905.8,195.8 893.0,183.0" fill="#fff" stroke="#008000" stroke-width="4.7" stroke-linejoin="round"/>
<polygon points="922.8,185.2 935.6,198.0 922.8,210.8 910.0,198.0" fill="#fff" stroke="#008000" stroke-width="4.7" stroke-linejoin="round"/>
<polygon points="939.8,197.2 952.6,210.0 939.8,222.8 927.0,210.0" fill="#fff" stroke="#008000" stroke-width="4.7" stroke-linejoin="round"/>
<polygon points="956.8,245.2 969.6,258.0 956.8,270.8 944.0,258.0" fill="#fff" stroke="#008000" stroke-width="4.7" stroke-linejoin="round"/>
<polygon points="973.9,260.2 986.7,273.0 973.9,285.8 961.1,273.0" fill="#fff" stroke="#008000" stroke-width="4.7" stroke-linejoin="round"/>
<polygon points="990.9,276.2 1003.7,289.0 990.9,301.8 978.1,289.0" fill="#fff" stroke="#008000" stroke-width="4.7" stroke-linejoin="round"/>
<polygon points="1007.9,282.2 1020.7,295.0 1007.9,307.8 995.1,295.0" fill="#fff" stroke="#008000" stroke-width="4.7" stroke-linejoin="round"/>
<polygon points="1024.9,288.2 1037.7,301.0 1024.9,313.8 1012.1,301.0" fill="#fff" stroke="#008000" stroke-width="4.7" stroke-linejoin="round"/>
<polygon points="1042.0,286.2 1054.8,299.0 1042.0,311.8 1029.2,299.0" fill="#fff" stroke="#008000" stroke-width="4.7" stroke-linejoin="round"/>
<polygon points="1059.0,297.2 1071.8,310.0 1059.0,322.8 1046.2,310.0" fill="#fff" stroke="#008000" stroke-width="4.7" stroke-linejoin="round"/>
<polygon points="1076.0,331.2 1088.8,344.0 1076.0,356.8 1063.2,344.0" fill="#fff" stroke="#008000" stroke-width="4.7" stroke-linejoin="round"/>
<polygon points="1093.0,319.2 1105.8,332.0 1093.0,344.8 1080.2,332.0" fill="#fff" stroke="#008000" stroke-width="4.7" stroke-linejoin="round"/>
<polygon points="1110.1,298.2 1122.9,311.0 1110.1,323.8 1097.3,311.0" fill="#fff" stroke="#008000" stroke-width="4.7" stroke-linejoin="round"/>
<polygon points="1127.1,312.2 1139.9,325.0 1127.1,337.8 1114.3,325.0" fill="#fff" stroke="#008000" stroke-width="4.7" stroke-linejoin="round"/>
<polygon points="1144.1,281.2 1156.9,294.0 1144.1,306.8 1131.3,294.0" fill="#fff" stroke="#008000" stroke-width="4.7" stroke-linejoin="round"/>
<polygon points="1161.2,289.2 1174.0,302.0 1161.2,314.8 1148.4,302.0" fill="#fff" stroke="#008000" stroke-width="4.7" stroke-linejoin="round"/>
<polygon points="1169.7,277.7 1182.5,290.5 1169.7,303.3 1156.9,290.5" fill="#fff" stroke="#008000" stroke-width="4.7" stroke-linejoin="round"/>
<polygon points="1178.2,265.7 1191.0,278.5 1178.2,291.3 1165.4,278.5" fill="#fff" stroke="#008000" stroke-width="4.7" stroke-linejoin="round"/>
<polygon points="1186.7,255.7 1199.5,268.5 1186.7,281.3 1173.9,268.5" fill="#fff" stroke="#008000" stroke-width="4.7" stroke-linejoin="round"/>
<polygon points="1195.2,248.2 1208.0,261.0 1195.2,273.8 1182.4,261.0" fill="#fff" stroke="#008000" stroke-width="4.7" stroke-linejoin="round"/>
<polygon points="1203.7,243.2 1216.5,256.0 1203.7,268.8 1190.9,256.0" fill="#fff" stroke="#008000" stroke-width="4.7" stroke-linejoin="round"/>
<polygon points="1212.2,218.2 1225.0,231.0 1212.2,243.8 1199.4,231.0" fill="#fff" stroke="#008000" stroke-width="4.7" stroke-linejoin="round"/>
<polygon points="1220.7,196.2 1233.5,209.0 1220.7,221.8 1207.9,209.0" fill="#fff" stroke="#008000" stroke-width="4.7" stroke-linejoin="round"/>
<polygon points="1229.3,152.2 1242.1,165.0 1229.3,177.8 1216.5,165.0" fill="#fff" stroke="#008000" stroke-width="4.7" stroke-linejoin="round"/>
<polygon points="1237.8,116.2 1250.6,129.0 1237.8,141.8 1225.0,129.0" fill="#fff" stroke="#008000" stroke-width="4.7" stroke-linejoin="round"/>
<polygon points="1246.3,132.2 1259.1,145.0 1246.3,157.8 1233.5,145.0" fill="#fff" stroke="#008000" stroke-width="4.7" stroke-linejoin="round"/>
<polygon points="1254.8,184.2 1267.6,197.0 1254.8,209.8 1242.0,197.0" fill="#fff" stroke="#008000" stroke-width="4.7" stroke-linejoin="round"/>
<polygon points="1263.3,205.2 1276.1,218.0 1263.3,230.8 1250.5,218.0" fill="#fff" stroke="#008000" stroke-width="4.7" stroke-linejoin="round"/>
<polygon points="1271.8,244.2 1284.6,257.0 1271.8,269.8 1259.0,257.0" fill="#fff" stroke="#008000" stroke-width="4.7" stroke-linejoin="round"/>
<polygon points="1280.3,307.2 1293.1,320.0 1280.3,332.8 1267.5,320.0" fill="#fff" stroke="#008000" stroke-width="4.7" stroke-linejoin="round"/>
<polygon points="1288.8,326.2 1301.6,339.0 1288.8,351.8 1276.0,339.0" fill="#fff" stroke="#008000" stroke-width="4.7" stroke-linejoin="round"/>
<polygon points="1297.4,355.2 1310.2,368.0 1297.4,380.8 1284.6,368.0" fill="#fff" stroke="#008000" stroke-width="4.7" stroke-linejoin="round"/>
<polygon points="1305.9,381.2 1318.7,394.0 1305.9,406.8 1293.1,394.0" fill="#fff" stroke="#008000" stroke-width="4.7" stroke-linejoin="round"/>
<polygon points="1314.4,399.2 1327.2,412.0 1314.4,424.8 1301.6,412.0" fill="#fff" stroke="#008000" stroke-width="4.7" stroke-linejoin="round"/>
<polygon points="1322.9,415.2 1335.7,428.0 1322.9,440.8 1310.1,428.0" fill="#fff" stroke="#008000" stroke-width="4.7" stroke-linejoin="round"/>
<polygon points="1331.4,436.2 1344.2,449.0 1331.4,461.8 1318.6,449.0" fill="#fff" stroke="#008000" stroke-width="4.7" stroke-linejoin="round"/>
<polygon points="1348.4,488.2 1361.2,501.0 1348.4,513.8 1335.6,501.0" fill="#fff" stroke="#008000" stroke-width="4.7" stroke-linejoin="round"/>
<polygon points="1365.5,509.2 1378.3,522.0 1365.5,534.8 1352.7,522.0" fill="#fff" stroke="#008000" stroke-width="4.7" stroke-linejoin="round"/>
<polygon points="1382.5,531.2 1395.3,544.0 1382.5,556.8 1369.7,544.0" fill="#fff" stroke="#008000" stroke-width="4.7" stroke-linejoin="round"/>
<polygon points="1399.5,566.2 1412.3,579.0 1399.5,591.8 1386.7,579.0" fill="#fff" stroke="#008000" stroke-width="4.7" stroke-linejoin="round"/>
<polygon points="1416.5,592.2 1429.3,605.0 1416.5,617.8 1403.7,605.0" fill="#fff" stroke="#008000" stroke-width="4.7" stroke-linejoin="round"/>
<polygon points="1433.6,624.2 1446.4,637.0 1433.6,649.8 1420.8,637.0" fill="#fff" stroke="#008000" stroke-width="4.7" stroke-linejoin="round"/>
<polygon points="1450.6,634.2 1463.4,647.0 1450.6,659.8 1437.8,647.0" fill="#fff" stroke="#008000" stroke-width="4.7" stroke-linejoin="round"/>
<polygon points="1467.6,666.2 1480.4,679.0 1467.6,691.8 1454.8,679.0" fill="#fff" stroke="#008000" stroke-width="4.7" stroke-linejoin="round"/>
<polygon points="1484.6,669.2 1497.4,682.0 1484.6,694.8 1471.8,682.0" fill="#fff" stroke="#008000" stroke-width="4.7" stroke-linejoin="round"/>
<polygon points="1501.7,681.2 1514.5,694.0 1501.7,706.8 1488.9,694.0" fill="#fff" stroke="#008000" stroke-width="4.7" stroke-linejoin="round"/>
<polyline points="854.7,18.2 863.2,81.2 871.7,81.2 880.2,133.2 888.7,171.2 897.2,203.2 905.8,239.2 922.8,295.2 939.8,335.2 956.8,352.2 973.9,366.2 990.9,396.2 1007.9,392.2 1024.9,407.2 1042.0,426.2 1059.0,442.2 1076.0,443.2 1093.0,430.2 1110.1,411.7 1127.1,410.2 1144.1,394.2 1161.2,374.2 1169.7,399.2 1178.2,398.7 1186.7,374.2 1195.2,353.2 1203.7,330.2 1212.2,303.2 1220.7,273.2 1229.3,205.2 1237.8,162.2 1246.3,133.2 1254.8,246.2 1263.3,294.2 1271.8,340.2 1280.3,411.2 1288.8,464.2 1297.4,503.7 1305.9,529.2 1314.4,556.2 1322.9,584.2 1331.4,615.2 1348.4,642.2 1365.5,691.2 1382.5,716.2 1399.5,746.2 1416.5,786.2" fill="none" stroke="#808000" stroke-width="3.00" stroke-linejoin="round"/>
<polygon points="863.2,67.5 875.3,88.5 851.1,88.5" fill="#fff" stroke="#808000" stroke-width="4.5" stroke-linejoin="round"/>
<polygon points="871.7,67.5 883.8,88.5 859.6,88.5" fill="#fff" stroke="#808000" stroke-width="4.5" stroke-linejoin="round"/>
<polygon points="880.2,119.5 892.3,140.5 868.1,140.5" fill="#fff" stroke="#808000" stroke-width="4.5" stroke-linejoin="round"/>
<polygon points="888.7,157.5 900.8,178.5 876.6,178.5" fill="#fff" stroke="#808000" stroke-width="4.5" stroke-linejoin="round"/>
<polygon points="897.2,189.5 909.3,210.5 885.1,210.5" fill="#fff" stroke="#808000" stroke-width="4.5" stroke-linejoin="round"/>
<polygon points="905.8,225.5 917.9,246.5 893.7,246.5" fill="#fff" stroke="#808000" stroke-width="4.5" stroke-linejoin="round"/>
<polygon points="922.8,281.5 934.9,302.5 910.7,302.5" fill="#fff" stroke="#808000" stroke-width="4.5" stroke-linejoin="round"/>
<polygon points="939.8,321.5 951.9,342.5 927.7,342.5" fill="#fff" stroke="#808000" stroke-width="4.5" stroke-linejoin="round"/>
<polygon points="956.8,338.5 968.9,359.5 944.7,359.5" fill="#fff" stroke="#808000" stroke-width="4.5" stroke-linejoin="round"/>
<polygon points="973.9,352.5 986.0,373.5 961.8,373.5" fill="#fff" stroke="#808000" stroke-width="4.5" stroke-linejoin="round"/>
<polygon points="990.9,382.5 1003.0,403.5 978.8,403.5" fill="#fff" stroke="#808000" stroke-width="4.5" stroke-linejoin="round"/>
<polygon points="1007.9,378.5 1020.0,399.5 995.8,399.5" fill="#fff" stroke="#808000" stroke-width="4.5" stroke-linejoin="round"/>
<polygon points="1024.9,393.5 1037.0,414.5 1012.8,414.5" fill="#fff" stroke="#808000" stroke-width="4.5" stroke-linejoin="round"/>
<polygon points="1042.0,412.5 1054.1,433.5 1029.9,433.5" fill="#fff" stroke="#808000" stroke-width="4.5" stroke-linejoin="round"/>
<polygon points="1059.0,428.5 1071.1,449.5 1046.9,449.5" fill="#fff" stroke="#808000" stroke-width="4.5" stroke-linejoin="round"/>
<polygon points="1076.0,429.5 1088.1,450.5 1063.9,450.5" fill="#fff" stroke="#808000" stroke-width="4.5" stroke-linejoin="round"/>
<polygon points="1093.0,416.5 1105.1,437.5 1080.9,437.5" fill="#fff" stroke="#808000" stroke-width="4.5" stroke-linejoin="round"/>
<polygon points="1110.1,398.0 1122.2,419.0 1098.0,419.0" fill="#fff" stroke="#808000" stroke-width="4.5" stroke-linejoin="round"/>
<polygon points="1127.1,396.5 1139.2,417.5 1115.0,417.5" fill="#fff" stroke="#808000" stroke-width="4.5" stroke-linejoin="round"/>
<polygon points="1144.1,380.5 1156.2,401.5 1132.0,401.5" fill="#fff" stroke="#808000" stroke-width="4.5" stroke-linejoin="round"/>
<polygon points="1161.2,360.5 1173.2,381.5 1149.1,381.5" fill="#fff" stroke="#808000" stroke-width="4.5" stroke-linejoin="round"/>
<polygon points="1169.7,385.5 1181.8,406.5 1157.6,406.5" fill="#fff" stroke="#808000" stroke-width="4.5" stroke-linejoin="round"/>
<polygon points="1178.2,385.0 1190.3,406.0 1166.1,406.0" fill="#fff" stroke="#808000" stroke-width="4.5" stroke-linejoin="round"/>
<polygon points="1186.7,360.5 1198.8,381.5 1174.6,381.5" fill="#fff" stroke="#808000" stroke-width="4.5" stroke-linejoin="round"/>
<polygon points="1195.2,339.5 1207.3,360.5 1183.1,360.5" fill="#fff" stroke="#808000" stroke-width="4.5" stroke-linejoin="round"/>
<polygon points="1203.7,316.5 1215.8,337.5 1191.6,337.5" fill="#fff" stroke="#808000" stroke-width="4.5" stroke-linejoin="round"/>
<polygon points="1212.2,289.5 1224.3,310.5 1200.1,310.5" fill="#fff" stroke="#808000" stroke-width="4.5" stroke-linejoin="round"/>
<polygon points="1220.7,259.5 1232.8,280.5 1208.6,280.5" fill="#fff" stroke="#808000" stroke-width="4.5" stroke-linejoin="round"/>
<polygon points="1229.3,191.5 1241.4,212.5 1217.2,212.5" fill="#fff" stroke="#808000" stroke-width="4.5" stroke-linejoin="round"/>
<polygon points="1237.8,148.5 1249.9,169.5 1225.7,169.5" fill="#fff" stroke="#808000" stroke-width="4.5" stroke-linejoin="round"/>
<polygon points="1246.3,119.5 1258.4,140.5 1234.2,140.5" fill="#fff" stroke="#808000" stroke-width="4.5" stroke-linejoin="round"/>
<polygon points="1254.8,232.5 1266.9,253.5 1242.7,253.5" fill="#fff" stroke="#808000" stroke-width="4.5" stroke-linejoin="round"/>
<polygon points="1263.3,280.5 1275.4,301.5 1251.2,301.5" fill="#fff" stroke="#808000" stroke-width="4.5" stroke-linejoin="round"/>
<polygon points="1271.8,326.5 1283.9,347.5 1259.7,347.5" fill="#fff" stroke="#808000" stroke-width="4.5" stroke-linejoin="round"/>
<polygon points="1280.3,397.5 1292.4,418.5 1268.2,418.5" fill="#fff" stroke="#808000" stroke-width="4.5" stroke-linejoin="round"/>
<polygon points="1288.8,450.5 1300.9,471.5 1276.7,471.5" fill="#fff" stroke="#808000" stroke-width="4.5" stroke-linejoin="round"/>
<polygon points="1297.4,490.0 1309.5,511.0 1285.3,511.0" fill="#fff" stroke="#808000" stroke-width="4.5" stroke-linejoin="round"/>
<polygon points="1305.9,515.5 1318.0,536.5 1293.8,536.5" fill="#fff" stroke="#808000" stroke-width="4.5" stroke-linejoin="round"/>
<polygon points="1314.4,542.5 1326.5,563.5 1302.3,563.5" fill="#fff" stroke="#808000" stroke-width="4.5" stroke-linejoin="round"/>
<polygon points="1322.9,570.5 1335.0,591.5 1310.8,591.5" fill="#fff" stroke="#808000" stroke-width="4.5" stroke-linejoin="round"/>
<polygon points="1331.4,601.5 1343.5,622.5 1319.3,622.5" fill="#fff" stroke="#808000" stroke-width="4.5" stroke-linejoin="round"/>
<polygon points="1348.4,628.5 1360.5,649.5 1336.3,649.5" fill="#fff" stroke="#808000" stroke-width="4.5" stroke-linejoin="round"/>
<polygon points="1365.5,677.5 1377.6,698.5 1353.4,698.5" fill="#fff" stroke="#808000" stroke-width="4.5" stroke-linejoin="round"/>
<polygon points="1382.5,702.5 1394.6,723.5 1370.4,723.5" fill="#fff" stroke="#808000" stroke-width="4.5" stroke-linejoin="round"/>
<polygon points="1399.5,732.5 1411.6,753.5 1387.4,753.5" fill="#fff" stroke="#808000" stroke-width="4.5" stroke-linejoin="round"/>
<polygon points="1416.5,772.5 1428.6,793.5 1404.4,793.5" fill="#fff" stroke="#808000" stroke-width="4.5" stroke-linejoin="round"/>
<polyline points="854.7,-33.2 871.7,66.3 888.7,161.8 905.8,312.8 922.8,383.3 939.8,412.3 956.8,420.3 973.9,493.3 990.9,516.8 1007.9,585.8 1024.9,564.8 1042.0,610.8 1059.0,636.3 1076.0,648.8 1093.0,594.8 1110.1,588.8 1127.1,593.8 1144.1,567.8 1161.2,568.8 1169.7,575.8 1178.2,567.8 1186.7,546.3 1195.2,500.3 1203.7,469.3 1212.2,422.8 1220.7,345.8 1229.3,293.8 1237.8,201.8 1246.3,133.3 1254.8,316.8 1263.3,382.3 1271.8,460.8 1280.3,607.8 1288.8,695.8 1297.4,721.8 1305.9,762.8 1314.4,811.8" fill="none" stroke="#f0832b" stroke-width="5.00" stroke-linejoin="round"/>
<polygon points="859.6,59.0 883.8,59.0 871.7,80.0" fill="#fff" stroke="#f0832b" stroke-width="4.5" stroke-linejoin="round"/>
<polygon points="876.6,154.5 900.8,154.5 888.7,175.5" fill="#fff" stroke="#f0832b" stroke-width="4.5" stroke-linejoin="round"/>
<polygon points="893.7,305.5 917.9,305.5 905.8,326.5" fill="#fff" stroke="#f0832b" stroke-width="4.5" stroke-linejoin="round"/>
<polygon points="910.7,376.0 934.9,376.0 922.8,397.0" fill="#fff" stroke="#f0832b" stroke-width="4.5" stroke-linejoin="round"/>
<polygon points="927.7,405.0 951.9,405.0 939.8,426.0" fill="#fff" stroke="#f0832b" stroke-width="4.5" stroke-linejoin="round"/>
<polygon points="944.7,413.0 968.9,413.0 956.8,434.0" fill="#fff" stroke="#f0832b" stroke-width="4.5" stroke-linejoin="round"/>
<polygon points="961.8,486.0 986.0,486.0 973.9,507.0" fill="#fff" stroke="#f0832b" stroke-width="4.5" stroke-linejoin="round"/>
<polygon points="978.8,509.5 1003.0,509.5 990.9,530.5" fill="#fff" stroke="#f0832b" stroke-width="4.5" stroke-linejoin="round"/>
<polygon points="995.8,578.5 1020.0,578.5 1007.9,599.5" fill="#fff" stroke="#f0832b" stroke-width="4.5" stroke-linejoin="round"/>
<polygon points="1012.8,557.5 1037.0,557.5 1024.9,578.5" fill="#fff" stroke="#f0832b" stroke-width="4.5" stroke-linejoin="round"/>
<polygon points="1029.9,603.5 1054.1,603.5 1042.0,624.5" fill="#fff" stroke="#f0832b" stroke-width="4.5" stroke-linejoin="round"/>
<polygon points="1046.9,629.0 1071.1,629.0 1059.0,650.0" fill="#fff" stroke="#f0832b" stroke-width="4.5" stroke-linejoin="round"/>
<polygon points="1063.9,641.5 1088.1,641.5 1076.0,662.5" fill="#fff" stroke="#f0832b" stroke-width="4.5" stroke-linejoin="round"/>
<polygon points="1080.9,587.5 1105.1,587.5 1093.0,608.5" fill="#fff" stroke="#f0832b" stroke-width="4.5" stroke-linejoin="round"/>
<polygon points="1098.0,581.5 1122.2,581.5 1110.1,602.5" fill="#fff" stroke="#f0832b" stroke-width="4.5" stroke-linejoin="round"/>
<polygon points="1115.0,586.5 1139.2,586.5 1127.1,607.5" fill="#fff" stroke="#f0832b" stroke-width="4.5" stroke-linejoin="round"/>
<polygon points="1132.0,560.5 1156.2,560.5 1144.1,581.5" fill="#fff" stroke="#f0832b" stroke-width="4.5" stroke-linejoin="round"/>
<polygon points="1149.1,561.5 1173.2,561.5 1161.2,582.5" fill="#fff" stroke="#f0832b" stroke-width="4.5" stroke-linejoin="round"/>
<polygon points="1157.6,568.5 1181.8,568.5 1169.7,589.5" fill="#fff" stroke="#f0832b" stroke-width="4.5" stroke-linejoin="round"/>
<polygon points="1166.1,560.5 1190.3,560.5 1178.2,581.5" fill="#fff" stroke="#f0832b" stroke-width="4.5" stroke-linejoin="round"/>
<polygon points="1174.6,539.0 1198.8,539.0 1186.7,560.0" fill="#fff" stroke="#f0832b" stroke-width="4.5" stroke-linejoin="round"/>
<polygon points="1183.1,493.0 1207.3,493.0 1195.2,514.0" fill="#fff" stroke="#f0832b" stroke-width="4.5" stroke-linejoin="round"/>
<polygon points="1191.6,462.0 1215.8,462.0 1203.7,483.0" fill="#fff" stroke="#f0832b" stroke-width="4.5" stroke-linejoin="round"/>
<polygon points="1200.1,415.5 1224.3,415.5 1212.2,436.5" fill="#fff" stroke="#f0832b" stroke-width="4.5" stroke-linejoin="round"/>
<polygon points="1208.6,338.5 1232.8,338.5 1220.7,359.5" fill="#fff" stroke="#f0832b" stroke-width="4.5" stroke-linejoin="round"/>
<polygon points="1217.2,286.5 1241.4,286.5 1229.3,307.5" fill="#fff" stroke="#f0832b" stroke-width="4.5" stroke-linejoin="round"/>
<polygon points="1225.7,194.5 1249.9,194.5 1237.8,215.5" fill="#fff" stroke="#f0832b" stroke-width="4.5" stroke-linejoin="round"/>
<polygon points="1234.2,126.0 1258.4,126.0 1246.3,147.0" fill="#fff" stroke="#f0832b" stroke-width="4.5" stroke-linejoin="round"/>
<polygon points="1242.7,309.5 1266.9,309.5 1254.8,330.5" fill="#fff" stroke="#f0832b" stroke-width="4.5" stroke-linejoin="round"/>
<polygon points="1251.2,375.0 1275.4,375.0 1263.3,396.0" fill="#fff" stroke="#f0832b" stroke-width="4.5" stroke-linejoin="round"/>
<polygon points="1259.7,453.5 1283.9,453.5 1271.8,474.5" fill="#fff" stroke="#f0832b" stroke-width="4.5" stroke-linejoin="round"/>
<polygon points="1268.2,600.5 1292.4,600.5 1280.3,621.5" fill="#fff" stroke="#f0832b" stroke-width="4.5" stroke-linejoin="round"/>
<polygon points="1276.7,688.5 1300.9,688.5 1288.8,709.5" fill="#fff" stroke="#f0832b" stroke-width="4.5" stroke-linejoin="round"/>
<polygon points="1285.3,714.5 1309.5,714.5 1297.4,735.5" fill="#fff" stroke="#f0832b" stroke-width="4.5" stroke-linejoin="round"/>
<polygon points="1293.8,755.5 1318.0,755.5 1305.9,776.5" fill="#fff" stroke="#f0832b" stroke-width="4.5" stroke-linejoin="round"/>
<polyline points="922.8,-14.0 939.8,180.0 956.8,294.0 973.9,463.0 990.9,571.0 1007.9,594.0 1024.9,563.0 1042.0,624.0 1059.0,684.0 1076.0,705.0 1093.0,686.0 1110.1,745.0 1127.1,749.0 1144.1,725.0 1161.2,707.0 1169.7,688.0 1178.2,704.0 1186.7,692.0 1195.2,650.0 1203.7,644.0 1212.2,577.0 1220.7,546.0 1229.3,462.0 1237.8,189.5 1246.3,133.0 1254.8,509.5 1263.3,622.0 1271.8,692.0 1280.3,813.0" fill="none" stroke="#cc0000" stroke-width="5.60" stroke-linejoin="round"/>
<circle cx="939.8" cy="180.0" r="9.6" fill="#fff" stroke="#cc0000" stroke-width="4.3"/>
<circle cx="956.8" cy="294.0" r="9.6" fill="#fff" stroke="#cc0000" stroke-width="4.3"/>
<circle cx="973.9" cy="463.0" r="9.6" fill="#fff" stroke="#cc0000" stroke-width="4.3"/>
<circle cx="990.9" cy="571.0" r="9.6" fill="#fff" stroke="#cc0000" stroke-width="4.3"/>
<circle cx="1007.9" cy="594.0" r="9.6" fill="#fff" stroke="#cc0000" stroke-width="4.3"/>
<circle cx="1024.9" cy="563.0" r="9.6" fill="#fff" stroke="#cc0000" stroke-width="4.3"/>
<circle cx="1042.0" cy="624.0" r="9.6" fill="#fff" stroke="#cc0000" stroke-width="4.3"/>
<circle cx="1059.0" cy="684.0" r="9.6" fill="#fff" stroke="#cc0000" stroke-width="4.3"/>
<circle cx="1076.0" cy="705.0" r="9.6" fill="#fff" stroke="#cc0000" stroke-width="4.3"/>
<circle cx="1093.0" cy="686.0" r="9.6" fill="#fff" stroke="#cc0000" stroke-width="4.3"/>
<circle cx="1110.1" cy="745.0" r="9.6" fill="#fff" stroke="#cc0000" stroke-width="4.3"/>
<circle cx="1127.1" cy="749.0" r="9.6" fill="#fff" stroke="#cc0000" stroke-width="4.3"/>
<circle cx="1144.1" cy="725.0" r="9.6" fill="#fff" stroke="#cc0000" stroke-width="4.3"/>
<circle cx="1161.2" cy="707.0" r="9.6" fill="#fff" stroke="#cc0000" stroke-width="4.3"/>
<circle cx="1169.7" cy="688.0" r="9.6" fill="#fff" stroke="#cc0000" stroke-width="4.3"/>
<circle cx="1178.2" cy="704.0" r="9.6" fill="#fff" stroke="#cc0000" stroke-width="4.3"/>
<circle cx="1186.7" cy="692.0" r="9.6" fill="#fff" stroke="#cc0000" stroke-width="4.3"/>
<circle cx="1195.2" cy="650.0" r="9.6" fill="#fff" stroke="#cc0000" stroke-width="4.3"/>
<circle cx="1203.7" cy="644.0" r="9.6" fill="#fff" stroke="#cc0000" stroke-width="4.3"/>
<circle cx="1212.2" cy="577.0" r="9.6" fill="#fff" stroke="#cc0000" stroke-width="4.3"/>
<circle cx="1220.7" cy="546.0" r="9.6" fill="#fff" stroke="#cc0000" stroke-width="4.3"/>
<circle cx="1229.3" cy="462.0" r="9.6" fill="#fff" stroke="#cc0000" stroke-width="4.3"/>
<circle cx="1237.8" cy="189.5" r="9.6" fill="#fff" stroke="#cc0000" stroke-width="4.3"/>
<circle cx="1246.3" cy="133.0" r="9.6" fill="#fff" stroke="#cc0000" stroke-width="4.3"/>
<circle cx="1254.8" cy="509.5" r="9.6" fill="#fff" stroke="#cc0000" stroke-width="4.3"/>
<circle cx="1263.3" cy="622.0" r="9.6" fill="#fff" stroke="#cc0000" stroke-width="4.3"/>
<circle cx="1271.8" cy="692.0" r="9.6" fill="#fff" stroke="#cc0000" stroke-width="4.3"/>
</g>
<g stroke="#000" stroke-width="5.3" fill="none" stroke-linecap="butt">
<path d="M735.5 40 V771.5 M733 42.5 H1589.5 M1586.8 40 V771.5 M733 768.8 H1589.5"/>
<line x1="735.5" y1="768" x2="735.5" y2="783.4" />
<line x1="820.6" y1="768" x2="820.6" y2="783.4" />
<line x1="905.8" y1="768" x2="905.8" y2="783.4" />
<line x1="990.9" y1="768" x2="990.9" y2="783.4" />
<line x1="1076.0" y1="768" x2="1076.0" y2="783.4" />
<line x1="1161.2" y1="768" x2="1161.2" y2="783.4" />
<line x1="1246.3" y1="768" x2="1246.3" y2="783.4" />
<line x1="1331.4" y1="768" x2="1331.4" y2="783.4" />
<line x1="1416.5" y1="768" x2="1416.5" y2="783.4" />
<line x1="1501.7" y1="768" x2="1501.7" y2="783.4" />
<line x1="1586.8" y1="768" x2="1586.8" y2="783.4" />
<line x1="1586" y1="768.8" x2="1601.3" y2="768.8" />
<line x1="1586" y1="678.0" x2="1601.3" y2="678.0" />
<line x1="1586" y1="587.2" x2="1601.3" y2="587.2" />
<line x1="1586" y1="496.4" x2="1601.3" y2="496.4" />
<line x1="1586" y1="405.6" x2="1601.3" y2="405.6" />
<line x1="1586" y1="314.8" x2="1601.3" y2="314.8" />
<line x1="1586" y1="224.1" x2="1601.3" y2="224.1" />
<line x1="1586" y1="133.3" x2="1601.3" y2="133.3" />
<line x1="1586" y1="42.5" x2="1601.3" y2="42.5" />
</g>
<text transform="translate(736.0 825.8) scale(1 1.020)" font-family='"Liberation Sans", Arial, sans-serif' font-size="41.3" text-anchor="middle" fill="#000" stroke="#000" stroke-width="0.50">0</text>
<text transform="translate(821.1 825.8) scale(1 1.020)" font-family='"Liberation Sans", Arial, sans-serif' font-size="41.3" text-anchor="middle" fill="#000" stroke="#000" stroke-width="0.50">1</text>
<text transform="translate(906.3 825.8) scale(1 1.020)" font-family='"Liberation Sans", Arial, sans-serif' font-size="41.3" text-anchor="middle" fill="#000" stroke="#000" stroke-width="0.50">2</text>
<text transform="translate(991.4 825.8) scale(1 1.020)" font-family='"Liberation Sans", Arial, sans-serif' font-size="41.3" text-anchor="middle" fill="#000" stroke="#000" stroke-width="0.50">3</text>
<text transform="translate(1076.5 825.8) scale(1 1.020)" font-family='"Liberation Sans", Arial, sans-serif' font-size="41.3" text-anchor="middle" fill="#000" stroke="#000" stroke-width="0.50">4</text>
<text transform="translate(1161.7 825.8) scale(1 1.020)" font-family='"Liberation Sans", Arial, sans-serif' font-size="41.3" text-anchor="middle" fill="#000" stroke="#000" stroke-width="0.50">5</text>
<text transform="translate(1246.8 825.8) scale(1 1.020)" font-family='"Liberation Sans", Arial, sans-serif' font-size="41.3" text-anchor="middle" fill="#000" stroke="#000" stroke-width="0.50">6</text>
<text transform="translate(1331.9 825.8) scale(1 1.020)" font-family='"Liberation Sans", Arial, sans-serif' font-size="41.3" text-anchor="middle" fill="#000" stroke="#000" stroke-width="0.50">7</text>
<text transform="translate(1417.0 825.8) scale(1 1.020)" font-family='"Liberation Sans", Arial, sans-serif' font-size="41.3" text-anchor="middle" fill="#000" stroke="#000" stroke-width="0.50">8</text>
<text transform="translate(1502.2 825.8) scale(1 1.020)" font-family='"Liberation Sans", Arial, sans-serif' font-size="41.3" text-anchor="middle" fill="#000" stroke="#000" stroke-width="0.50">9</text>
<text transform="translate(1587.3 825.8) scale(1 1.020)" font-family='"Liberation Sans", Arial, sans-serif' font-size="41.3" text-anchor="middle" fill="#000" stroke="#000" stroke-width="0.50">10</text>
<text transform="translate(1610.3 781.4) scale(1 1.020)" font-family='"Liberation Sans", Arial, sans-serif' font-size="41.3" text-anchor="start" fill="#000" stroke="#000" stroke-width="0.50">0.3</text>
<text transform="translate(1610.3 690.6) scale(1 1.020)" font-family='"Liberation Sans", Arial, sans-serif' font-size="41.3" text-anchor="start" fill="#000" stroke="#000" stroke-width="0.50">0.4</text>
<text transform="translate(1610.3 599.8) scale(1 1.020)" font-family='"Liberation Sans", Arial, sans-serif' font-size="41.3" text-anchor="start" fill="#000" stroke="#000" stroke-width="0.50">0.5</text>
<text transform="translate(1610.3 509.0) scale(1 1.020)" font-family='"Liberation Sans", Arial, sans-serif' font-size="41.3" text-anchor="start" fill="#000" stroke="#000" stroke-width="0.50">0.6</text>
<text transform="translate(1610.3 418.2) scale(1 1.020)" font-family='"Liberation Sans", Arial, sans-serif' font-size="41.3" text-anchor="start" fill="#000" stroke="#000" stroke-width="0.50">0.7</text>
<text transform="translate(1610.3 327.4) scale(1 1.020)" font-family='"Liberation Sans", Arial, sans-serif' font-size="41.3" text-anchor="start" fill="#000" stroke="#000" stroke-width="0.50">0.8</text>
<text transform="translate(1610.3 236.7) scale(1 1.020)" font-family='"Liberation Sans", Arial, sans-serif' font-size="41.3" text-anchor="start" fill="#000" stroke="#000" stroke-width="0.50">0.9</text>
<text transform="translate(1610.3 145.9) scale(1 1.020)" font-family='"Liberation Sans", Arial, sans-serif' font-size="41.3" text-anchor="start" fill="#000" stroke="#000" stroke-width="0.50">1.0</text>
<text transform="translate(1610.3 55.1) scale(1 1.020)" font-family='"Liberation Sans", Arial, sans-serif' font-size="41.3" text-anchor="start" fill="#000" stroke="#000" stroke-width="0.50">1.1</text>
<text transform="translate(1001.6 878.2) scale(1 1.020)" font-family='"Liberation Sans", Arial, sans-serif' font-size="41.3" text-anchor="start" fill="#000" stroke="#000" stroke-width="0.50">Magnetic field (T)</text>
<text transform="translate(1714 499) rotate(-90) scale(1 1.020)" font-family='"Liberation Sans", Arial, sans-serif' font-size="41.3" fill="#000" stroke="#000" stroke-width="0.5"><tspan font-style="italic">I</tspan><tspan font-size="29" dy="10">c</tspan><tspan dy="-10">(</tspan><tspan font-style="italic">B</tspan>)/<tspan font-style="italic">I</tspan><tspan font-size="29" dy="10">c</tspan><tspan dy="-10">(</tspan><tspan font-style="italic">B</tspan><tspan font-size="29" dy="10">1</tspan><tspan dy="-10">)</tspan></text>
<text transform="translate(745.3 93.6) scale(1 1.030)" font-family='"Liberation Sans", Arial, sans-serif' font-size="45.8" text-anchor="start" fill="#000" font-weight="bold" stroke="#000" stroke-width="0.20">(b)</text>
<rect x="1367.6" y="80.6" width="207.6" height="124" fill="#808080"/>
<rect x="1361.2" y="74.1" width="207.2" height="123.6" fill="#fff" stroke="#9a9a9a" stroke-width="1.1"/>
<text transform="translate(1463.2 122.6) scale(1 1.020)" font-family='"Liberation Sans", Arial, sans-serif' font-size="48.6" text-anchor="middle" fill="#808080" stroke="#808080" stroke-width="0.40">Vortex</text>
<text transform="translate(1464.8 180.8) scale(1 1.020)" font-family='"Liberation Sans", Arial, sans-serif' font-size="48.2" text-anchor="middle" fill="#808080" stroke="#808080" stroke-width="0.40">matching</text>
<line x1="1361" y1="124" x2="1290" y2="106.6" stroke="#808080" stroke-width="5"/>
<polygon points="1255.5,98 1297,98 1292,116.8" fill="#808080"/>
<rect x="760" y="491.7" width="205.3" height="265.1" fill="#000"/>
<rect x="752.9" y="485.1" width="204.4" height="264.4" fill="#fff" stroke="#000" stroke-width="3.7"/>
<text transform="translate(761.6 513.8) scale(1 1.030)" font-family='"Liberation Sans", Arial, sans-serif' font-size="31.6" text-anchor="start" fill="#000" font-weight="bold" stroke="#000" stroke-width="0.20">Temperature</text>
<line x1="787.6" y1="541.3" x2="857.2" y2="541.3" stroke="#0000ff" stroke-width="5.2" stroke-linecap="round"/>
<rect x="813.9" y="532.9" width="16.7" height="16.7" fill="#fff" stroke="#0000ff" stroke-width="4.2" stroke-linejoin="round"/>
<text transform="translate(930.0 552.2) scale(1 1.020)" font-family='"Liberation Sans", Arial, sans-serif' font-size="30.7" text-anchor="end" fill="#000" stroke="#000" stroke-width="0.40">2 K</text>
<line x1="787.6" y1="579.5" x2="857.2" y2="579.5" stroke="#7f00ff" stroke-width="5.2" stroke-linecap="round"/>
<polygon points="822.3,568.9 831.5,574.2 831.5,584.8 822.3,590.1 813.1,584.8 813.1,574.2" fill="#fff" stroke="#a100cf" stroke-width="4.3" stroke-linejoin="round"/>
<text transform="translate(930.0 590.4) scale(1 1.020)" font-family='"Liberation Sans", Arial, sans-serif' font-size="30.7" text-anchor="end" fill="#000" stroke="#000" stroke-width="0.40">5 K</text>
<line x1="787.6" y1="617.7" x2="857.2" y2="617.7" stroke="#008000" stroke-width="5.2" stroke-linecap="round"/>
<polygon points="822.3,604.9 835.1,617.7 822.3,630.5 809.5,617.7" fill="#fff" stroke="#008000" stroke-width="4.7" stroke-linejoin="round"/>
<text transform="translate(930.0 628.6) scale(1 1.020)" font-family='"Liberation Sans", Arial, sans-serif' font-size="30.7" text-anchor="end" fill="#000" stroke="#000" stroke-width="0.40">10 K</text>
<line x1="787.6" y1="655.9" x2="857.2" y2="655.9" stroke="#808000" stroke-width="3.2" stroke-linecap="round"/>
<polygon points="822.3,642.2 834.4,663.2 810.2,663.2" fill="#fff" stroke="#808000" stroke-width="4.5" stroke-linejoin="round"/>
<text transform="translate(930.0 666.8) scale(1 1.020)" font-family='"Liberation Sans", Arial, sans-serif' font-size="30.7" text-anchor="end" fill="#000" stroke="#000" stroke-width="0.40">15 K</text>
<line x1="787.6" y1="694.1" x2="857.2" y2="694.1" stroke="#f0832b" stroke-width="5.2" stroke-linecap="round"/>
<polygon points="810.2,686.8 834.4,686.8 822.3,707.8" fill="#fff" stroke="#f0832b" stroke-width="4.5" stroke-linejoin="round"/>
<text transform="translate(930.0 705.0) scale(1 1.020)" font-family='"Liberation Sans", Arial, sans-serif' font-size="30.7" text-anchor="end" fill="#000" stroke="#000" stroke-width="0.40">20 K</text>
<line x1="787.6" y1="732.3" x2="857.2" y2="732.3" stroke="#cc0000" stroke-width="5.8" stroke-linecap="round"/>
<circle cx="822.3" cy="732.3" r="9.6" fill="#fff" stroke="#cc0000" stroke-width="4.3"/>
<text transform="translate(930.0 743.2) scale(1 1.020)" font-family='"Liberation Sans", Arial, sans-serif' font-size="30.7" text-anchor="end" fill="#000" stroke="#000" stroke-width="0.40">25 K</text>
</svg></body></html>
